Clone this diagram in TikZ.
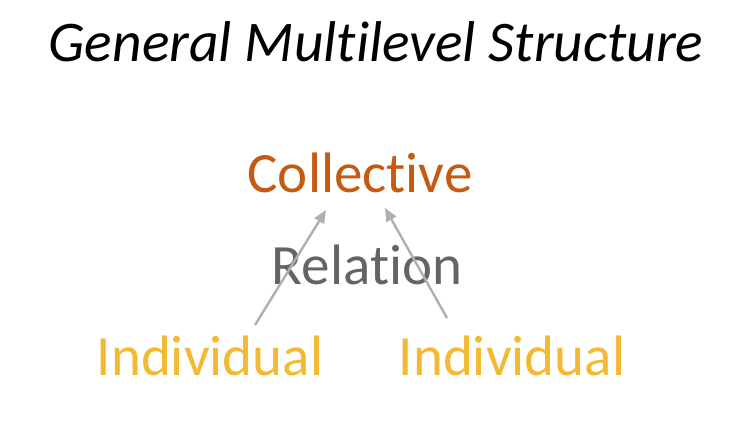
\documentclass[tikz,border=0pt]{standalone}
\usepackage{fontspec}
\setmainfont{Carlito}[Ligatures={NoCommon,NoRequired,NoContextual},Contextuals={NoAlternate}]
\usetikzlibrary{arrows.meta}
\definecolor{collc}{RGB}{197,90,17}
\definecolor{relc}{RGB}{100,100,100}
\definecolor{indc}{RGB}{244,185,50}
\definecolor{arrc}{RGB}{175,175,175}
\begin{document}
\begin{tikzpicture}[x=1pt,y=-1pt,
  lbl/.style={inner sep=0pt,anchor=base,font=\fontsize{57}{60}\selectfont},
  conn/.style={draw=arrc,line width=2.4pt,-{Triangle[length=13pt,width=11pt]}}]
\useasboundingbox (0,0) rectangle (750,422);
\node[lbl,font=\fontsize{57.5}{60}\selectfont\itshape] (title) at (376,62) {General Multilevel Structure};
\node[lbl,text=collc] (coll) at (360,193) {Collective};
\node[lbl,text=relc] (rel) at (367,285) {Relation};
\node[lbl,text=indc] (ind1) at (210,375) {Individual};
\node[lbl,text=indc] (ind2) at (512,375) {Individual};
\coordinate (s1) at (255,325);
\coordinate (e1) at (326,210);
\coordinate (s2) at (447,318);
\coordinate (e2) at (385,208);
\draw[conn] (s1) -- (e1);
\draw[conn] (s2) -- (e2);
\end{tikzpicture}
\end{document}
